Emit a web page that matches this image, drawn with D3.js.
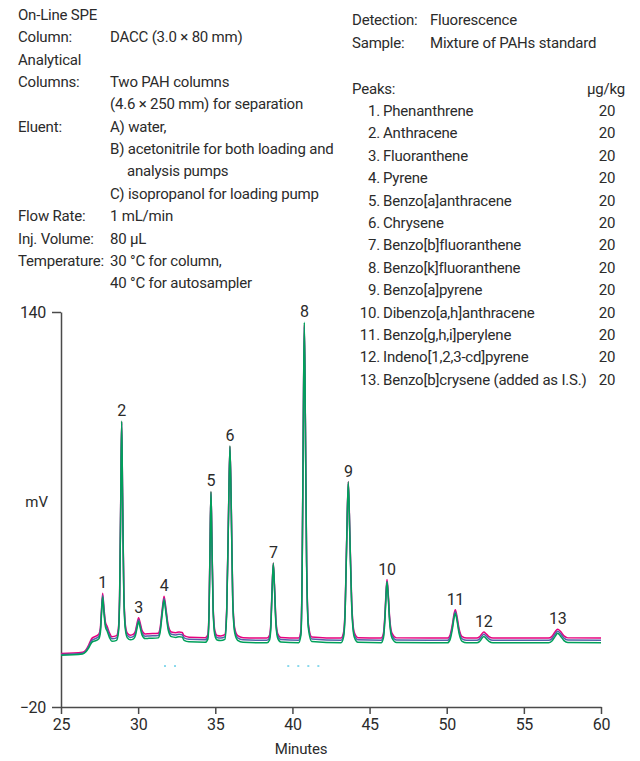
<!DOCTYPE html>
<html>
<head>
<meta charset="utf-8">
<script src="https://cdn.jsdelivr.net/npm/d3@7"></script>
<style>
  html, body { margin: 0; padding: 0; background: #fff; }
  svg { display: block; }
  text { font-family: Roboto, "Liberation Sans", Arial, sans-serif; fill: #2b2b2b; }
</style>
</head>
<body>
<svg id="chart" width="640" height="761"></svg>
<script>
// ---------- data ----------
const times = [25.0,26.4,26.6,26.8,27.0,27.3,27.45,27.55,27.62,27.70,27.78,27.88,28.00,28.15,28.30,28.60,28.72,28.80,28.87,28.93,28.99,29.07,29.17,29.30,29.50,29.70,29.82,29.93,30.03,30.13,30.25,30.45,30.70,31.30,31.42,31.55,31.68,31.81,31.95,32.15,32.45,32.65,32.85,32.98,33.30,34.35,34.52,34.60,34.66,34.72,34.78,34.86,34.98,35.12,35.35,35.62,35.74,35.85,35.95,36.04,36.13,36.26,36.45,36.80,38.35,38.52,38.60,38.68,38.76,38.84,38.93,39.05,39.25,40.40,40.55,40.63,40.70,40.77,40.84,40.92,41.04,41.25,43.15,43.32,43.42,43.52,43.62,43.72,43.84,44.00,44.25,45.75,45.90,46.00,46.07,46.13,46.20,46.30,46.45,46.75,50.05,50.22,50.38,50.48,50.56,50.66,50.80,51.00,51.30,51.95,52.12,52.26,52.40,52.56,52.74,53.00,56.60,56.82,57.02,57.19,57.38,57.60,57.85,60.0];

const pinkValues = [1.7,2.2,3.0,5.2,7.8,8.8,9.5,11.9,18.9,26.1,20.4,14.4,12.5,9.9,8.5,8.9,11.9,25.9,62.9,95.6,66.9,27.9,13.4,9.9,9.1,9.5,10.7,13.9,16.2,14.1,11.1,9.6,9.7,9.9,11.9,18.9,24.9,19.5,13.1,10.4,10.1,10.4,10.2,8.9,8.3,8.1,9.4,20.9,45.9,67.2,48.9,20.9,10.7,9.0,8.8,9.3,19.9,55.9,85.6,59.9,24.9,11.9,8.9,8.1,7.9,9.1,13.9,27.9,38.3,28.9,15.4,9.7,8.2,7.9,10.9,35.9,90.9,134.8,95.9,38.9,13.4,8.4,7.9,10.4,20.9,48.9,71.3,50.9,22.9,10.4,8.1,7.9,9.9,17.9,26.9,31.6,26.9,16.4,9.9,8.0,7.9,9.2,13.9,17.9,19.4,16.9,11.7,8.5,7.9,7.9,8.4,9.5,10.4,9.6,8.5,7.9,7.9,8.6,10.4,11.5,10.6,8.8,8.0,7.9];

const blueValues = [1.3,1.8,2.6,4.6,7.0,7.9,8.6,11.0,18.0,25.3,19.5,13.5,11.6,9.0,7.6,8.0,11.0,25.0,62.0,95.0,66.0,27.0,12.5,9.0,8.2,8.6,9.8,13.0,15.3,13.2,10.2,8.7,8.8,9.0,11.0,18.0,24.0,18.6,12.2,9.5,9.2,9.5,9.3,8.0,7.4,7.2,8.5,20.0,45.0,66.5,48.0,20.0,9.8,8.1,7.9,8.4,19.0,55.0,85.0,59.0,24.0,11.0,8.0,7.2,7.0,8.2,13.0,27.0,37.5,28.0,14.5,8.8,7.3,7.0,10.0,35.0,90.0,134.0,95.0,38.0,12.5,7.5,7.0,9.5,20.0,48.0,70.5,50.0,22.0,9.5,7.2,7.0,9.0,17.0,26.0,30.8,26.0,15.5,9.0,7.1,7.0,8.3,13.0,17.0,18.6,16.0,10.8,7.6,7.0,7.0,7.5,8.6,9.5,8.7,7.6,7.0,7.0,7.7,9.5,10.7,9.7,7.9,7.1,7.0];

const greenValues = [1.0,1.5,2.3,4.0,6.2,7.0,7.6,10.0,17.0,24.6,18.5,12.5,10.6,8.0,6.6,7.0,10.0,24.0,61.5,95.8,65.5,26.0,11.5,8.0,7.2,7.6,8.8,12.0,14.6,12.2,9.2,7.7,7.8,8.0,10.0,17.0,23.3,17.6,11.2,8.5,8.2,8.5,8.3,7.0,6.4,6.2,7.5,19.0,44.5,67.3,47.5,19.0,8.8,7.1,6.9,7.4,18.0,54.5,85.8,58.5,23.0,10.0,7.0,6.2,6.0,7.2,12.0,26.5,38.2,27.5,13.5,7.8,6.3,6.0,9.0,34.5,90.0,135.8,94.5,37.0,11.5,6.5,6.0,8.5,19.0,47.5,71.2,49.5,21.0,8.5,6.2,6.0,8.0,16.0,25.5,30.6,25.5,14.5,8.0,6.1,6.0,7.3,12.0,16.2,17.9,15.2,9.8,6.6,6.0,6.0,6.5,7.6,8.6,7.7,6.6,6.0,6.0,6.7,8.5,9.9,8.7,6.9,6.1,6.0];

// small cyan artefact marks below the baseline
const cyanTimes = [31.74, 32.39, 39.73, 40.38, 41.03, 41.68];
const cyanValue = -3.4;

const peakLabels = ["1","2","3","4","5","6","7","8","9","10","11","12","13"];
const peakTimes  = [27.70,28.93,30.03,31.68,34.72,35.95,38.76,40.77,43.62,46.13,50.56,52.40,57.19];
const peakTops   = [26.1,95.8,16.2,24.9,67.3,85.8,38.3,135.8,71.3,31.6,19.4,10.4,11.5];

const xTicks = [25,30,35,40,45,50,55,60];
const yTicks = [-20,140];

const condLabels = ["On-Line SPE","Column:","Analytical","Columns:","","Eluent:","","","","Flow Rate:","Inj. Volume:","Temperature:",""];
const condValues = ["","DACC (3.0 \u00d7 80 mm)","","Two PAH columns","(4.6 \u00d7 250 mm) for separation","A) water,","B) acetonitrile for both loading and","   analysis pumps","C) isopropanol for loading pump","1 mL/min","80 \u00b5L","30 \u00b0C for column,","40 \u00b0C for autosampler"];

const detLabels = ["Detection:","Sample:"];
const detValues = ["Fluorescence","Mixture of PAHs standard"];

const peakNames = ["Phenanthrene","Anthracene","Fluoranthene","Pyrene","Benzo[a]anthracene","Chrysene","Benzo[b]fluoranthene","Benzo[k]fluoranthene","Benzo[a]pyrene","Dibenzo[a,h]anthracene","Benzo[g,h,i]perylene","Indeno[1,2,3-cd]pyrene","Benzo[b]crysene (added as I.S.)"];
const peakConc = [20,20,20,20,20,20,20,20,20,20,20,20,20];

// ---------- drawing ----------
const svg = d3.select("#chart");
svg.append("rect").attr("width",640).attr("height",761).attr("fill","#fff");

const x = d3.scaleLinear().domain([25,60]).range([61,601]);
const y = d3.scaleLinear().domain([-20,140]).range([707,312]);

const FS = "15px", LS = "-0.2px";

// condition text block
const cond = svg.append("g").style("font-size",FS).style("letter-spacing",LS);
condLabels.forEach((t,i)=>{
  if (t) cond.append("text").attr("x",18).attr("y",20+i*22.35).text(t);
});
condValues.forEach((t,i)=>{
  if (!t) return;
  const indent = t.startsWith("   ");
  cond.append("text").attr("x", indent ? 127 : 110).attr("y",20+i*22.35).text(t.trim());
});

// detection block
const det = svg.append("g").style("font-size",FS).style("letter-spacing",LS);
detLabels.forEach((t,i)=>{
  det.append("text").attr("x",352).attr("y",25+i*23).text(t);
  det.append("text").attr("x",430).attr("y",25+i*23).text(detValues[i]);
});
det.append("text").attr("x",352).attr("y",94).text("Peaks:");
det.append("text").attr("x",625).attr("y",94).attr("text-anchor","end").text("\u00b5g/kg");
peakNames.forEach((n,i)=>{
  const yy = 116 + i*22.4;
  det.append("text").attr("x",380).attr("y",yy).attr("text-anchor","end").text((i+1)+".");
  det.append("text").attr("x",383).attr("y",yy).text(n);
  det.append("text").attr("x",607).attr("y",yy).attr("text-anchor","middle").text(peakConc[i]);
});

// axes
const axisColor = "#4a4a4a";
const gx = svg.append("g").attr("transform","translate(0,707)")
  .call(d3.axisBottom(x).tickValues(xTicks).tickSize(7).tickSizeOuter(0).tickPadding(5).tickFormat(d3.format("d")));
const gy = svg.append("g").attr("transform","translate(61,0)")
  .call(d3.axisLeft(y).tickValues(yTicks).tickSize(9).tickSizeOuter(0).tickPadding(6));
[gx,gy].forEach(g=>{
  g.select(".domain").attr("stroke",axisColor).attr("stroke-width",1.5);
  g.selectAll(".tick line").attr("stroke",axisColor).attr("stroke-width",1.5);
  g.selectAll(".tick text").attr("fill","#2b2b2b").style("font-size","16px")
    .style("letter-spacing","-0.3px")
    .style("font-family","Roboto, 'Liberation Sans', Arial, sans-serif");
});

svg.append("text").attr("x",48).attr("y",507).attr("text-anchor","end").style("font-size",FS).text("mV");
svg.append("text").attr("x",301).attr("y",754).attr("text-anchor","middle").style("font-size",FS).style("letter-spacing",LS).text("Minutes");

// cyan marks
svg.append("g").selectAll("line").data(cyanTimes).join("line")
  .attr("x1",d=>x(d)-1).attr("x2",d=>x(d)+1)
  .attr("y1",y(cyanValue)).attr("y2",y(cyanValue))
  .attr("stroke","#3cc0e0").attr("stroke-width",1.2);

// traces
const series = [
  {values: pinkValues,  color: "#e6007e"},
  {values: blueValues,  color: "#5560a8"},
  {values: greenValues, color: "#00a05a"}
];
const line = d3.line().x(d=>x(d[0])).y(d=>y(d[1])).curve(d3.curveMonotoneX);
series.forEach(s=>{
  svg.append("path")
    .datum(times.map((t,i)=>[t,s.values[i]]))
    .attr("fill","none").attr("stroke",s.color)
    .attr("stroke-width",1.5).attr("stroke-linejoin","round")
    .attr("d",line);
});

// peak labels
svg.append("g").selectAll("text").data(peakLabels).join("text")
  .attr("x",(d,i)=>x(peakTimes[i]))
  .attr("y",(d,i)=>y(peakTops[i])-5)
  .attr("text-anchor","middle").style("font-size","16px").style("letter-spacing","-0.3px")
  .text(d=>d);
</script>
</body>
</html>
